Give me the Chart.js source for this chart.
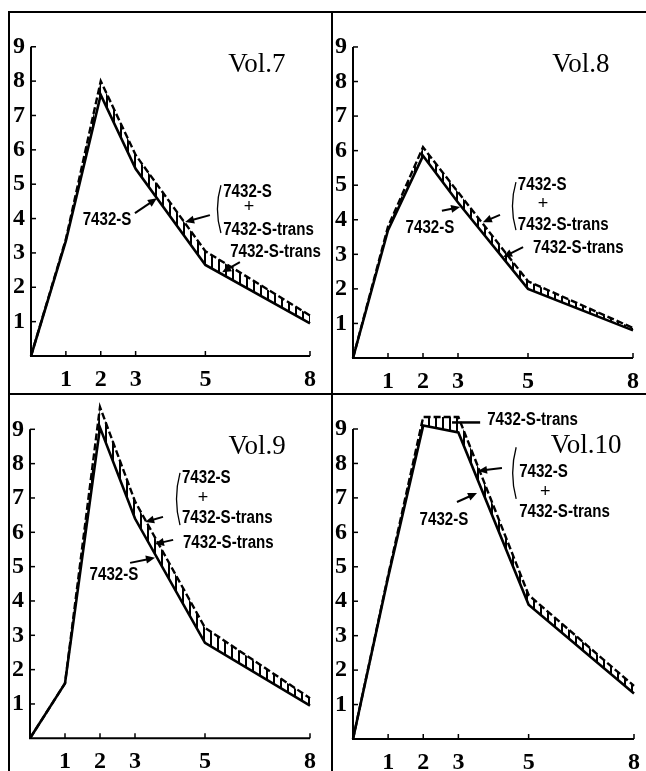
<!DOCTYPE html>
<html><head><meta charset="utf-8">
<script src="https://cdn.jsdelivr.net/npm/chart.js@4.4.1/dist/chart.umd.min.js"></script>
<style>
html,body{margin:0;padding:0;background:#fff;width:646px;height:771px;overflow:hidden;position:relative}
canvas{position:absolute}
.ln{position:absolute;background:#000;z-index:5}
</style></head><body>
<div class="ln" style="left:8px;top:11px;width:638px;height:2px"></div>
<div class="ln" style="left:8px;top:11px;width:2px;height:760px"></div>
<div class="ln" style="left:331px;top:11px;width:2px;height:760px"></div>
<div class="ln" style="left:8px;top:393px;width:638px;height:2px"></div>
<script>
// ---- data ----
const X_VALUES = [0, 1, 2, 3, 5, 8];
const X_TICKS = [1, 2, 3, 5, 8];
const Y_TICKS = [1, 2, 3, 4, 5, 6, 7, 8, 9];
const VOLUMES = ['Vol.7', 'Vol.8', 'Vol.9', 'Vol.10'];
const S_VOL7  = [0, 3.35, 7.6, 5.45, 2.65, 0.95];
const ST_VOL7 = [0, 3.4, 8.0, 5.85, 3.05, 1.18];
const S_VOL8  = [0, 3.7, 5.85, 4.5, 2.0, 0.8];
const ST_VOL8 = [0, 3.8, 6.1, 4.8, 2.22, 0.87];
const S_VOL9  = [0, 1.6, 9.05, 6.4, 2.78, 0.95];
const ST_VOL9 = [0, 1.6, 9.65, 6.9, 3.22, 1.17];
const S_VOL10  = [0, 4.7, 9.1, 8.9, 3.9, 1.32];
const ST_VOL10 = [0, 4.75, 9.35, 9.35, 4.18, 1.54];
const SERIES_S = [S_VOL7, S_VOL8, S_VOL9, S_VOL10];
const SERIES_ST = [ST_VOL7, ST_VOL8, ST_VOL9, ST_VOL10];
const LABEL_S = '7432-S';
const LABEL_T = '7432-S-trans';

// ---- layout (pixel frame of each panel: y-axis x, right end, y of 9, y of 0) ----
const FRAMES = [
  {axisX: 31, right: 310, y9: 46.5, bottom: 356},
  {axisX: 353, right: 633, y9: 46.7, bottom: 358},
  {axisX: 30, right: 310, y9: 429.3, bottom: 738.3},
  {axisX: 353, right: 634, y9: 429, bottom: 739}
];

// annotations in data units
const NOTES = [
  [
    {k:'vol', x:6.48, y:8.26},
    {k:'text', t:LABEL_S, x:2.18, y:3.81, a:'center'},
    {k:'arrow', x1:2.98, y1:4.16, x2:3.61, y2:4.59},
    {k:'bracket', x:5.36, y1:4.97, y2:3.58},
    {k:'text', t:LABEL_S, x:5.51, y:4.62, a:'left'},
    {k:'plus', x:6.25, y:4.33},
    {k:'text', t:LABEL_T, x:5.51, y:3.52, a:'left'},
    {k:'arrow', x1:5.13, y1:4.10, x2:4.42, y2:3.90},
    {k:'text', t:LABEL_T, x:5.71, y:2.88, a:'left'},
    {k:'arrow', x1:5.99, y1:2.73, x2:5.48, y2:2.44}
  ],
  [
    {k:'vol', x:6.51, y:8.27},
    {k:'text', t:LABEL_S, x:2.2, y:3.61, a:'center'},
    {k:'arrow', x1:2.54, y1:4.26, x2:3.06, y2:4.37},
    {k:'bracket', x:4.57, y1:5.09, y2:3.70},
    {k:'text', t:LABEL_S, x:4.71, y:4.86, a:'left'},
    {k:'plus', x:5.43, y:4.45},
    {k:'text', t:LABEL_T, x:4.71, y:3.70, a:'left'},
    {k:'arrow', x1:4.2, y1:4.14, x2:3.71, y2:3.93},
    {k:'text', t:LABEL_T, x:5.14, y:3.03, a:'left'},
    {k:'arrow', x1:4.86, y1:3.21, x2:4.29, y2:2.92}
  ],
  [
    {k:'vol', x:6.49, y:8.28},
    {k:'bracket', x:4.2, y1:7.73, y2:6.21},
    {k:'text', t:LABEL_S, x:4.34, y:7.43, a:'left'},
    {k:'plus', x:4.94, y:7.0},
    {k:'text', t:LABEL_T, x:4.34, y:6.26, a:'left'},
    {k:'arrow', x1:3.8, y1:6.45, x2:3.29, y2:6.30},
    {k:'text', t:LABEL_T, x:4.37, y:5.53, a:'left'},
    {k:'arrow', x1:4.09, y1:5.78, x2:3.57, y2:5.66},
    {k:'text', t:LABEL_S, x:2.4, y:4.61, a:'center'},
    {k:'arrow', x1:2.86, y1:5.11, x2:3.57, y2:5.26}
  ],
  [
    {k:'text', t:LABEL_T, x:3.82, y:9.12, a:'left'},
    {k:'line', x1:3.62, y1:9.19, x2:2.82, y2:9.19},
    {k:'vol', x:6.64, y:8.3},
    {k:'bracket', x:4.56, y1:8.47, y2:6.97},
    {k:'text', t:LABEL_S, x:4.73, y:7.62, a:'left'},
    {k:'plus', x:5.47, y:7.17},
    {k:'text', t:LABEL_T, x:4.73, y:6.45, a:'left'},
    {k:'arrow', x1:4.24, y1:7.87, x2:3.56, y2:7.78},
    {k:'text', t:LABEL_S, x:2.59, y:6.21, a:'center'},
    {k:'arrow', x1:2.96, y1:6.88, x2:3.53, y2:7.14}
  ]
];

const SX = 0.84;
function drawLabel(ctx, text, x, y, align) {
  ctx.save();
  ctx.font = 'bold 18px "Liberation Sans", Arial, sans-serif';
  ctx.textBaseline = 'alphabetic';
  ctx.textAlign = 'left';
  const w = ctx.measureText(text).width * SX;
  const left = align === 'center' ? x - w / 2 : x;
  ctx.translate(left, y);
  ctx.scale(SX, 1);
  ctx.fillText(text, 0, 0);
  ctx.restore();
}
function drawArrow(ctx, x1, y1, x2, y2) {
  const ang = Math.atan2(y2 - y1, x2 - x1);
  const L = 9, W = 4;
  ctx.lineWidth = 2;
  ctx.beginPath();
  ctx.moveTo(x1, y1);
  ctx.lineTo(x2 - Math.cos(ang) * L * 0.8, y2 - Math.sin(ang) * L * 0.8);
  ctx.stroke();
  ctx.beginPath();
  ctx.moveTo(x2, y2);
  ctx.lineTo(x2 - Math.cos(ang) * L - Math.sin(ang) * W, y2 - Math.sin(ang) * L + Math.cos(ang) * W);
  ctx.lineTo(x2 - Math.cos(ang) * L + Math.sin(ang) * W, y2 - Math.sin(ang) * L - Math.cos(ang) * W);
  ctx.closePath();
  ctx.fill();
}

const decor = {
  id: 'decor',
  afterDatasetsDraw(chart, args, opts) {
    const ctx = chart.ctx;
    const xs = chart.scales.x, ys = chart.scales.y;
    const px = v => xs.getPixelForValue(v), py = v => ys.getPixelForValue(v);
    ctx.save();
    ctx.strokeStyle = '#000';
    ctx.fillStyle = '#000';
    ctx.lineCap = 'butt';
    // axes
    ctx.lineWidth = 2;
    ctx.beginPath();
    ctx.moveTo(px(0), py(9));
    ctx.lineTo(px(0), py(0));
    ctx.lineTo(px(8), py(0));
    ctx.stroke();
    // inward ticks
    ctx.lineWidth = 1.5;
    Y_TICKS.forEach(v => {
      ctx.beginPath(); ctx.moveTo(px(0), py(v)); ctx.lineTo(px(0) + 5, py(v)); ctx.stroke();
    });
    X_TICKS.forEach(v => {
      ctx.beginPath(); ctx.moveTo(px(v), py(0)); ctx.lineTo(px(v), py(0) - 5); ctx.stroke();
    });
    // annotations
    opts.items.forEach(it => {
      if (it.k === 'vol') {
        ctx.font = '27px "Liberation Serif", "Times New Roman", serif';
        ctx.textAlign = 'center';
        ctx.textBaseline = 'alphabetic';
        ctx.fillText(opts.title, px(it.x), py(it.y));
      } else if (it.k === 'text') {
        drawLabel(ctx, it.t, px(it.x), py(it.y), it.a);
      } else if (it.k === 'plus') {
        ctx.font = '18px "Liberation Sans", Arial, sans-serif';
        ctx.textAlign = 'center';
        ctx.textBaseline = 'middle';
        ctx.fillText('+', px(it.x), py(it.y));
      } else if (it.k === 'arrow') {
        drawArrow(ctx, px(it.x1), py(it.y1), px(it.x2), py(it.y2));
      } else if (it.k === 'line') {
        ctx.lineWidth = 2.5;
        ctx.beginPath(); ctx.moveTo(px(it.x1), py(it.y1)); ctx.lineTo(px(it.x2), py(it.y2)); ctx.stroke();
      } else if (it.k === 'bracket') {
        const x = px(it.x), a = py(it.y1), b = py(it.y2);
        ctx.lineWidth = 1.3;
        ctx.beginPath();
        ctx.moveTo(x + 3, a);
        ctx.quadraticCurveTo(x - 4, (a + b) / 2, x + 3, b);
        ctx.stroke();
      }
    });
    ctx.restore();
  }
};

function makeHatch() {
  const c = document.createElement('canvas');
  c.width = 7; c.height = 7;
  const g = c.getContext('2d');
  g.fillStyle = '#000';
  g.fillRect(0, 0, 2, 7);
  return g.createPattern(c, 'repeat');
}

const LEFT_W = 30, RIGHT_PAD = 20, TOP_PAD = 20, XAX_H = 34;
FRAMES.forEach((f, i) => {
  const unit = (f.bottom - f.y9) / 9;
  const areaTop = f.bottom - 10 * unit;
  const cTop = Math.floor(areaTop - TOP_PAD);
  const padTop = areaTop - cTop;
  const cH = Math.ceil(f.bottom + XAX_H - cTop);
  const xH = cH - (f.bottom - cTop);
  const cLeft = f.axisX - LEFT_W;
  const cW = LEFT_W + (f.right - f.axisX) + RIGHT_PAD;
  const cv = document.createElement('canvas');
  cv.width = cW; cv.height = cH;
  cv.style.left = cLeft + 'px'; cv.style.top = cTop + 'px';
  cv.style.width = cW + 'px'; cv.style.height = cH + 'px';
  document.body.appendChild(cv);
  const pts = arr => X_VALUES.map((x, j) => ({x: x, y: arr[j]}));
  new Chart(cv, {
    type: 'line',
    data: {
      datasets: [
        {label: LABEL_S, data: pts(SERIES_S[i]), borderColor: '#000', borderWidth: 2.6,
         pointRadius: 0, fill: false, tension: 0, clip: false, borderJoinStyle: 'miter'},
        {label: LABEL_S + ' + ' + LABEL_T, data: pts(SERIES_ST[i]), borderColor: '#000', borderWidth: 2.4,
         borderDash: [7, 3], pointRadius: 0, fill: '-1', backgroundColor: makeHatch(), tension: 0, clip: false}
      ]
    },
    options: {
      responsive: false,
      animation: false,
      events: [],
      devicePixelRatio: 1,
      layout: {padding: {left: 0, right: RIGHT_PAD, top: padTop, bottom: 0}},
      plugins: {legend: {display: false}, tooltip: {enabled: false}, decor: {items: NOTES[i], title: VOLUMES[i]}},
      scales: {
        x: {
          type: 'linear', min: 0, max: 8,
          afterBuildTicks: s => { s.ticks = X_TICKS.map(v => ({value: v})); },
          afterFit: s => { s.height = xH; },
          grid: {display: false, drawTicks: false},
          border: {display: false},
          ticks: {color: '#000', padding: 9, maxRotation: 0, autoSkip: false,
                  font: {family: '"Liberation Serif", serif', size: 24, weight: 'bold'}}
        },
        y: {
          type: 'linear', min: 0, max: 10,
          afterBuildTicks: s => { s.ticks = Y_TICKS.map(v => ({value: v})); },
          afterFit: s => { s.width = LEFT_W; },
          grid: {display: false, drawTicks: false},
          border: {display: false},
          ticks: {color: '#000', padding: 6, autoSkip: false,
                  font: {family: '"Liberation Serif", serif', size: 24, weight: 'bold'}}
        }
      }
    },
    plugins: [decor]
  });
});
</script>
</body></html>
